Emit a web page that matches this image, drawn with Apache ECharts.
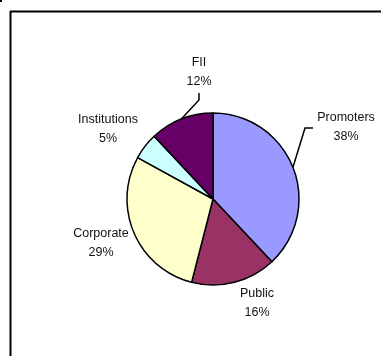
<!DOCTYPE html>
<html><head><meta charset="utf-8">
<script src="https://cdn.jsdelivr.net/npm/echarts@6/dist/echarts.min.js"></script>
<style>html,body{margin:0;padding:0;background:#fff}#c{width:381px;height:356px}</style>
</head><body><div id="c"></div>
<script>
const categories = ['Promoters', 'Public', 'Corporate', 'Institutions', 'FII'];
const values = [38, 16, 29, 5, 12];
const colors = ['#9999FF', '#993366', '#FFFFCC', '#CCFFFF', '#660066'];

const labelPos = {
  Promoters: [346, 127],
  Public: [257, 303],
  Corporate: [101, 243],
  Institutions: [108, 129],
  FII: [199, 72]
};
const cx = 213, cy = 199, R = 86;
const total = values.reduce((a, b) => a + b, 0);
function midAngle(i) {
  let s = 0;
  for (let k = 0; k < i; k++) s += values[k];
  const a = 90 - (s + values[i] / 2) / total * 360;
  return a * Math.PI / 180;
}
function edge(i) {
  const a = midAngle(i);
  return [cx + R * Math.cos(a), cy - R * Math.sin(a)];
}

const chart = echarts.init(document.getElementById('c'), null, {renderer: 'canvas'});
chart.setOption({
  animation: false,
  backgroundColor: '#fff',
  graphic: [
    {type: 'line', shape: {x1: 10, y1: 11.5, x2: 381, y2: 11.5}, style: {stroke: '#000', lineWidth: 2}},
    {type: 'line', shape: {x1: 10.5, y1: 11, x2: 10.5, y2: 356}, style: {stroke: '#000', lineWidth: 2}},
    {type: 'rect', shape: {x: 0, y: 0, width: 2, height: 2}, style: {fill: '#000'}}
  ],
  series: [{
    type: 'pie',
    center: [cx, cy],
    radius: R,
    startAngle: 90,
    clockwise: true,
    avoidLabelOverlap: false,
    data: categories.map((n, i) => ({
      name: n, value: values[i],
      itemStyle: {color: colors[i]},
      labelLine: {show: n === 'Promoters' || n === 'FII'}
    })),
    itemStyle: {borderColor: '#000', borderWidth: 1.5},
    label: {
      show: true,
      position: 'outside',
      formatter: '{b}\n{d}%',
      fontFamily: 'Liberation Sans, Arial, sans-serif',
      fontSize: 12.5,
      lineHeight: 19,
      color: '#111',
      align: 'center',
      overflow: 'none',
      width: 100,
      edgeDistance: 0,
      bleedMargin: 0
    },
    labelLine: {lineStyle: {color: '#000', width: 1.5}, length: 10, length2: 10, smooth: false},
    labelLayout: function (p) {
      const n = categories[p.dataIndex];
      const pos = labelPos[n];
      const res = {x: pos[0], y: pos[1], align: 'center', verticalAlign: 'middle'};
      const e = edge(p.dataIndex);
      if (n === 'Promoters') {
        res.labelLinePoints = [e, [305, 128], [313, 128]];
      } else if (n === 'FII') {
        res.labelLinePoints = [e, [199, 100], [199, 93]];
      }
      return res;
    }
  }]
});
</script></body></html>
